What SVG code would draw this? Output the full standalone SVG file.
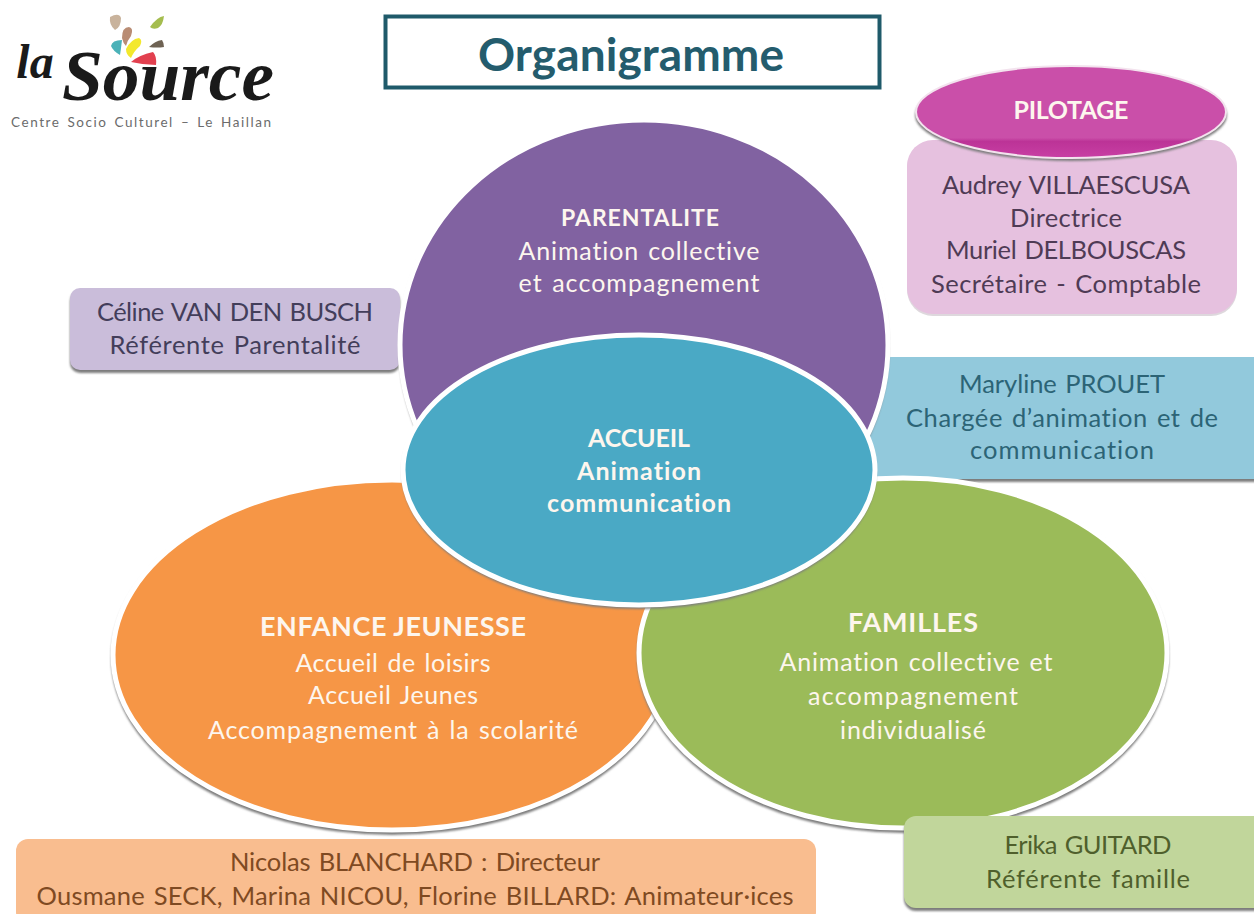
<svg xmlns="http://www.w3.org/2000/svg" width="1254" height="914" viewBox="0 0 1254 914">
<defs>
<linearGradient id="pilot" x1="0" y1="0" x2="0" y2="1"><stop offset="0" stop-color="#ca4fa9"/><stop offset="0.78" stop-color="#ca4fa9"/><stop offset="0.82" stop-color="#bc3397"/><stop offset="1" stop-color="#c83fa4"/></linearGradient>
<filter id="soft" x="-5%" y="-5%" width="110%" height="112%"><feGaussianBlur stdDeviation="1.1"/></filter>
</defs>
<style>
text{font-family:"Lato","Open Sans","Liberation Sans",sans-serif;text-anchor:middle;font-variant-ligatures:none;word-spacing:2px}
.w{fill:#fdf6ee;font-size:25px}
.wb{fill:#fdf6ee;font-size:25px;font-weight:700}
.d{font-size:25.500px}
.circ{stroke:#fff;stroke-width:5}
.sh{fill:#7d7d7d;filter:url(#soft)}
</style>
<rect width="1254" height="914" fill="#fff"/>
<g id="logo">
<path d="M110 17q9-5 11 1q0 9-6 12q-6-5-5-13z" fill="#c9b39c"/>
<path d="M150 27q7-10 14-11q-1 9-6 12q-5 2-8-1z" fill="#a5bd4f"/>
<path d="M122 38q0-11 7-11q5 1 2 9q-4 5-5 10q-3-3-4-8z" fill="#b98c74"/>
<path d="M111 46q1-6 11-6q-1 9-2 15q-7-4-9-9z" fill="#4bb2b8"/>
<path d="M126 49q5-10 13-11q4 2 1 8q-6 5-9 12q-5-3-5-9z" fill="#f3e82c"/>
<path d="M149 47q6-6 13-7q2 3 2 7q-7 1-15 0z" fill="#6e6253"/>
<path d="M131 62q8-7 22-10q4 4 3 13q-12 0-25-3z" fill="#e2404f"/>
<text x="35" y="78" font-size="48" font-style="italic" font-weight="700" fill="#1a1a1a" style="font-family:'Liberation Serif',serif">la</text>
<text x="168" y="100" font-size="72" font-style="italic" font-weight="700" fill="#1a1a1a" textLength="212" lengthAdjust="spacingAndGlyphs" style="font-family:'Liberation Serif',serif">Source</text>
<text x="141" y="127" font-size="13.500" fill="#6b6b6b" textLength="260">Centre Socio Culturel – Le Haillan</text>
</g>
<g id="title">
<rect x="385.500" y="16.500" width="494" height="71" fill="#fff" stroke="#1f5a6a" stroke-width="4"/>
<text x="631" y="71" font-size="46" font-weight="700" fill="#245c6d" textLength="306">Organigramme</text>
</g>
<g id="connectors"></g>
<g id="pilotage-box">
<rect x="907" y="142" width="330" height="174" rx="26" fill="#ded8dd"/>
<rect x="907" y="140" width="330" height="174" rx="26" fill="#e6c1df"/>
<g fill="#4f3b55"><text x="1066" y="194" class="d" textLength="248">Audrey VILLAESCUSA</text><text x="1066" y="227" class="d" textLength="112">Directrice</text><text x="1066" y="259" class="d" textLength="240">Muriel DELBOUSCAS</text><text x="1066" y="293" class="d" textLength="270">Secrétaire - Comptable</text></g>
</g>
<g id="pilotage">
<ellipse cx="1071" cy="115" rx="156" ry="46" class="sh"/>
<ellipse cx="1071" cy="112" rx="155" ry="46" fill="url(#pilot)" stroke="#f3e3ee" stroke-width="2"/>
<text x="1071" y="119" class="wb" textLength="115">PILOTAGE</text>
</g>
<g id="parentalite-label">
<rect x="70" y="291" width="330" height="82" rx="10" class="sh"/>
<rect x="70" y="288" width="330" height="82" rx="10" fill="#cabdda"/>
<g fill="#433e5a"><text x="235" y="321" class="d" textLength="276">Céline VAN DEN BUSCH</text><text x="235" y="354" class="d" textLength="251">Référente  Parentalité</text></g>
</g>
<g id="accueil-label">
<rect x="866" y="360" width="400" height="122" rx="10" class="sh"/>
<rect x="866" y="357" width="400" height="122" rx="10" fill="#92c9dc"/>
<g fill="#2c6476"><text x="1062" y="393" class="d" textLength="206">Maryline PROUET</text><text x="1062" y="427" class="d" textLength="312">Chargée d’animation et de</text><text x="1062" y="459" class="d" textLength="184">communication</text></g>
</g>
<g id="parentalite">
<ellipse cx="644" cy="348" rx="245" ry="226" class="sh"/>
<ellipse cx="644" cy="345" rx="244" ry="225" fill="#8162a1" class="circ"/>
<text x="640" y="226" class="wb" style="font-size:23px" textLength="158">PARENTALITE</text>
<text x="639" y="260" class="w" textLength="241">Animation collective</text>
<text x="639" y="292" class="w" textLength="241">et accompagnement</text>
</g>
<g id="enfance">
<ellipse cx="392" cy="658" rx="281" ry="177" class="sh"/>
<ellipse cx="392" cy="655" rx="279" ry="175" fill="#f69646" class="circ"/>
<text x="393" y="636" class="wb" style="font-size:27px;word-spacing:0" textLength="266">ENFANCE JEUNESSE</text>
<text x="393" y="672" class="w" textLength="195">Accueil de loisirs</text>
<text x="393" y="704" class="w" textLength="170">Accueil Jeunes</text>
<text x="393" y="739" class="w" textLength="370">Accompagnement à la scolarité</text>
</g>
<g id="familles">
<ellipse cx="903" cy="656" rx="266" ry="177" class="sh"/>
<ellipse cx="903" cy="653" rx="264" ry="175" fill="#9bbb59" class="circ"/>
<text x="913" y="632" class="wb" style="font-size:27px" textLength="130">FAMILLES</text>
<text x="916" y="671" class="w" textLength="273">Animation collective et</text>
<text x="913" y="705" class="w" textLength="210">accompagnement</text>
<text x="913" y="739" class="w" textLength="146">individualisé</text>
</g>
<g id="accueil">
<ellipse cx="639" cy="473" rx="237" ry="136" class="sh"/>
<ellipse cx="639" cy="470" rx="236" ry="135" fill="#4aa9c5" class="circ"/>
<text x="639" y="447" class="wb" textLength="102">ACCUEIL</text>
<text x="639" y="480" class="wb" textLength="124">Animation</text>
<text x="639" y="512" class="wb" textLength="184">communication</text>
</g>
<g id="enfance-label">
<rect x="16" y="839" width="800" height="85" rx="12" fill="#f9bd8f"/>
<g fill="#7f4a22"><text x="415" y="871" class="d" textLength="370">Nicolas BLANCHARD : Directeur</text><text x="415" y="905" class="d" textLength="757">Ousmane SECK, Marina NICOU, Florine BILLARD: Animateur·ices</text></g>
</g>
<g id="familles-label">
<rect x="904" y="819" width="370" height="92" rx="12" class="sh"/>
<rect x="904" y="816" width="370" height="92" rx="12" fill="#c1d69b"/>
<g fill="#4f5f2c"><text x="1088" y="854" class="d" textLength="167">Erika GUITARD</text><text x="1088" y="888" class="d" textLength="204">Référente  famille</text></g>
</g>
</svg>
